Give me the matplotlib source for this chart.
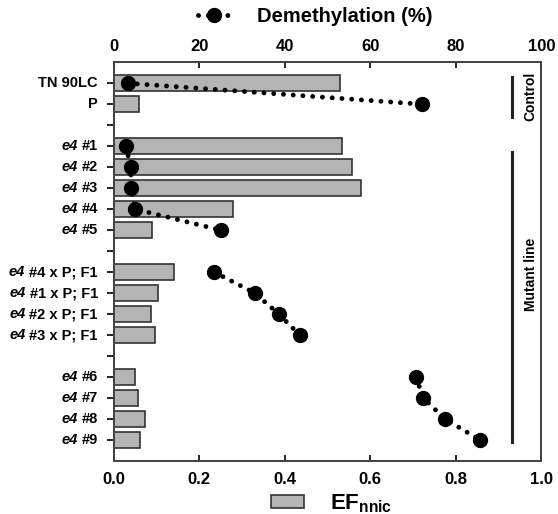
import numpy as np
import matplotlib
matplotlib.use("Agg")
import matplotlib.pyplot as plt
from matplotlib.lines import Line2D
from matplotlib.patches import Patch
from matplotlib.transforms import offset_copy

plt.rcParams['font.family'] = ['Liberation Sans', 'DejaVu Sans']
plt.rcParams['font.weight'] = 'bold'
plt.rcParams['mathtext.fontset'] = 'custom'
plt.rcParams['mathtext.rm'] = 'Liberation Sans:bold'
plt.rcParams['mathtext.bf'] = 'Liberation Sans:bold'

# rows, top to bottom; "" marks an empty spacer row
labels = ["TN 90LC", "P", "",
          "e4 #1", "e4 #2", "e4 #3", "e4 #4", "e4 #5", "",
          "e4 #4 x P; F1", "e4 #1 x P; F1", "e4 #2 x P; F1", "e4 #3 x P; F1", "",
          "e4 #6", "e4 #7", "e4 #8", "e4 #9"]
ef_nnic = [0.53, 0.06, np.nan,
           0.534, 0.557, 0.578, 0.278, 0.089, np.nan,
           0.14, 0.103, 0.086, 0.096, np.nan,
           0.049, 0.056, 0.072, 0.061]
demethylation = [3.2, 72.0, np.nan,
                 2.8, 4.0, 4.0, 5.0, 25.0, np.nan,
                 23.5, 33.0, 38.6, 43.5, np.nan,
                 70.7, 72.4, 77.5, 85.7]

pos = np.arange(len(labels))
dots = (0, (0.01, 2.0))

fig = plt.figure(figsize=(5.58, 5.14), dpi=100)
ax = fig.add_axes([0.204, 0.103, 0.766, 0.776])

ax.barh(pos, ef_nnic, height=0.78, color="#b4b4b4", edgecolor="#333333", linewidth=1.2)
ax.set_xlim(0, 1.0)
ax.set_ylim(len(labels), -1)
ax.set_yticks(pos)
ax.set_yticklabels([])
ax.set_xticks([0, 0.2, 0.4, 0.6, 0.8, 1.0])
ax.set_xticklabels(["0.0", "0.2", "0.4", "0.6", "0.8", "1.0"], fontsize=12, fontweight='bold')
ax.tick_params(axis='x', direction='in', length=4, width=1.2, pad=8)
ax.tick_params(axis='y', direction='out', length=5, width=1.2)
for s in ax.spines.values():
    s.set_linewidth(1.3)
    s.set_color("#444444")

# row labels: "e4" in italics, the rest upright
lab_size = 10.5
gap_pt = 11.5
trans = offset_copy(ax.get_yaxis_transform(), fig=fig, x=-gap_pt, y=0, units='points')
fig.canvas.draw()
renderer = fig.canvas.get_renderer()
for p, lab in zip(pos, labels):
    if not lab:
        continue
    if lab.startswith("e4 "):
        rest = lab[3:]
        t = ax.text(0, p, rest, transform=trans, ha='right', va='center',
                    fontsize=lab_size, fontweight='bold')
        w = t.get_window_extent(renderer).width * 72 / fig.dpi
        t2 = offset_copy(ax.get_yaxis_transform(), fig=fig, x=-gap_pt - w - 3.0, y=0, units='points')
        ax.text(0, p, "e4", transform=t2, ha='right', va='center',
                fontsize=lab_size, fontweight='bold', style='italic')
    else:
        ax.text(0, p, lab, transform=trans, ha='right', va='center',
                fontsize=lab_size, fontweight='bold')

# group markers on the right
ax.plot([0.932, 0.932], [-0.3, 1.6], color="#222222", lw=2.2)
ax.text(0.975, 0.65, "Control", rotation=90, ha='center', va='center', fontsize=10, fontweight='bold')
ax.plot([0.932, 0.932], [3.3, 17.1], color="#222222", lw=2.2)
ax.text(0.975, 9.1, "Mutant line", rotation=90, ha='center', va='center', fontsize=10, fontweight='bold')

# demethylation on the top axis
ax2 = ax.twiny()
ax2.set_xlim(0, 100)
ax2.plot(demethylation, pos, linestyle=dots, color='black', lw=3.5, dash_capstyle='round',
         marker='o', markersize=10, markerfacecolor='black', markeredgecolor='black')
ax2.set_xticks([0, 20, 40, 60, 80, 100])
ax2.set_xticklabels(["0", "20", "40", "60", "80", "100"], fontsize=12, fontweight='bold')
ax2.tick_params(axis='x', direction='in', length=4, width=1.2, pad=6)
for s in ax2.spines.values():
    s.set_linewidth(1.3)
    s.set_color("#444444")

# legends
h_top = Line2D([], [], linestyle=dots, color='black', lw=3.5, dash_capstyle='round',
               marker='o', markersize=10)
fig.legend([h_top], ["Demethylation (%)"], loc='center', bbox_to_anchor=(0.565, 0.967),
           frameon=False, prop={'size': 14.5, 'weight': 'bold'}, handlelength=1.6, handletextpad=1.3)
h_bot = Patch(facecolor="#b4b4b4", edgecolor="#333333", linewidth=1.2)
fig.legend([h_bot], ["EF$_{\\mathbf{nnic}}$"], loc='center', bbox_to_anchor=(0.595, 0.02),
           frameon=False, prop={'size': 16, 'weight': 'bold'}, handlelength=1.45, handleheight=0.5,
           handletextpad=1.2)

fig.savefig("out.png", dpi=100)
